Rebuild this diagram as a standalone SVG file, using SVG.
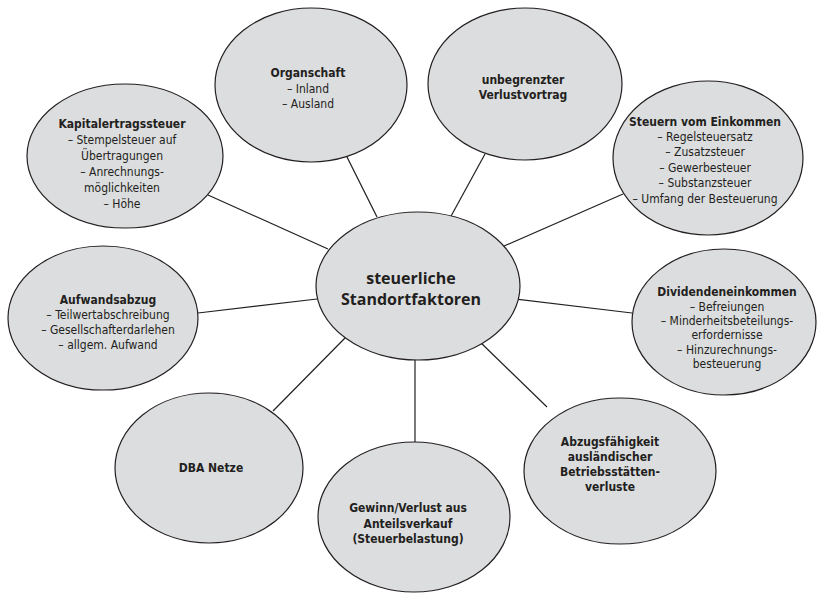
<svg xmlns="http://www.w3.org/2000/svg" width="817" height="594" viewBox="0 0 817 594">
<style>
.n{fill:#dcdddf;stroke:#231f20;stroke-width:1.2}
.c line{stroke:#231f20;stroke-width:1.2}
text{font-family:"Liberation Sans Narrow","DejaVu Sans Condensed","Liberation Sans",sans-serif;font-size:12px;fill:#231f20;text-anchor:middle}
.b{font-weight:bold}
.big{font-family:"Open Sans","DejaVu Sans",sans-serif;font-weight:bold;font-size:16px}
</style>
<rect width="817" height="594" fill="#fff"/>
<g class="c">
<line x1="208" y1="195" x2="328" y2="249"/>
<line x1="346" y1="155" x2="377" y2="217"/>
<line x1="485" y1="154" x2="450" y2="218"/>
<line x1="623" y1="194" x2="495" y2="250"/>
<line x1="632" y1="313" x2="507" y2="298"/>
<line x1="198" y1="313" x2="317" y2="299"/>
<line x1="273" y1="411" x2="345" y2="338"/>
<line x1="415" y1="360" x2="415" y2="443"/>
<line x1="547" y1="407" x2="478" y2="340"/>
</g>
<g id="kapital"><ellipse class="n" cx="125" cy="156" rx="98" ry="72"/>
<text x="122" y="128" class="b">Kapitalertragssteuer</text>
<text x="122" y="144">– Stempelsteuer auf</text>
<text x="122" y="160">Übertragungen</text>
<text x="122" y="176">– Anrechnungs-</text>
<text x="122" y="192">möglichkeiten</text>
<text x="122" y="208">– Höhe</text></g>
<g id="organschaft"><ellipse class="n" cx="311" cy="85" rx="96" ry="77"/>
<text x="308" y="77" class="b">Organschaft</text>
<text x="308" y="93">– Inland</text>
<text x="308" y="108">– Ausland</text></g>
<g id="verlustvortrag"><ellipse class="n" cx="525" cy="84" rx="97" ry="76"/>
<text x="523" y="84" class="b">unbegrenzter</text>
<text x="523" y="99" class="b">Verlustvortrag</text></g>
<g id="einkommen"><ellipse class="n" cx="708" cy="158" rx="95" ry="77"/>
<text x="705" y="126" class="b">Steuern vom Einkommen</text>
<text x="705" y="141">– Regelsteuersatz</text>
<text x="705" y="156">– Zusatzsteuer</text>
<text x="705" y="172">– Gewerbesteuer</text>
<text x="705" y="187">– Substanzsteuer</text>
<text x="705" y="203">– Umfang der Besteuerung</text></g>
<g id="dividenden"><ellipse class="n" cx="724" cy="322" rx="92" ry="73"/>
<text x="727" y="296" class="b">Dividendeneinkommen</text>
<text x="727" y="311">– Befreiungen</text>
<text x="727" y="325">– Minderheitsbeteilungs-</text>
<text x="727" y="339">erfordernisse</text>
<text x="727" y="354">– Hinzurechnungs-</text>
<text x="727" y="368">besteuerung</text></g>
<g id="aufwand"><ellipse class="n" cx="103" cy="318" rx="95" ry="72"/>
<text x="108" y="304" class="b">Aufwandsabzug</text>
<text x="108" y="319">– Teilwertabschreibung</text>
<text x="108" y="334">– Gesellschafterdarlehen</text>
<text x="108" y="349">– allgem. Aufwand</text></g>
<g id="zentrum"><ellipse class="n" cx="418" cy="286" rx="102" ry="74"/>
<text x="411" y="284" class="big">steuerliche</text>
<text x="411" y="305" class="big">Standortfaktoren</text></g>
<g id="dba"><ellipse class="n" cx="209" cy="468" rx="94" ry="75"/>
<text x="211" y="472" class="b">DBA Netze</text></g>
<g id="gewinn"><ellipse class="n" cx="414" cy="517" rx="96" ry="75"/>
<text x="408" y="512" class="b">Gewinn/Verlust aus</text>
<text x="408" y="528" class="b">Anteilsverkauf</text>
<text x="408" y="543" class="b">(Steuerbelastung)</text></g>
<g id="abzug"><ellipse class="n" cx="620" cy="471" rx="96" ry="73"/>
<text x="610" y="446" class="b">Abzugsfähigkeit</text>
<text x="610" y="461" class="b">ausländischer</text>
<text x="610" y="476" class="b">Betriebsstätten-</text>
<text x="610" y="491" class="b">verluste</text></g>
</svg>
